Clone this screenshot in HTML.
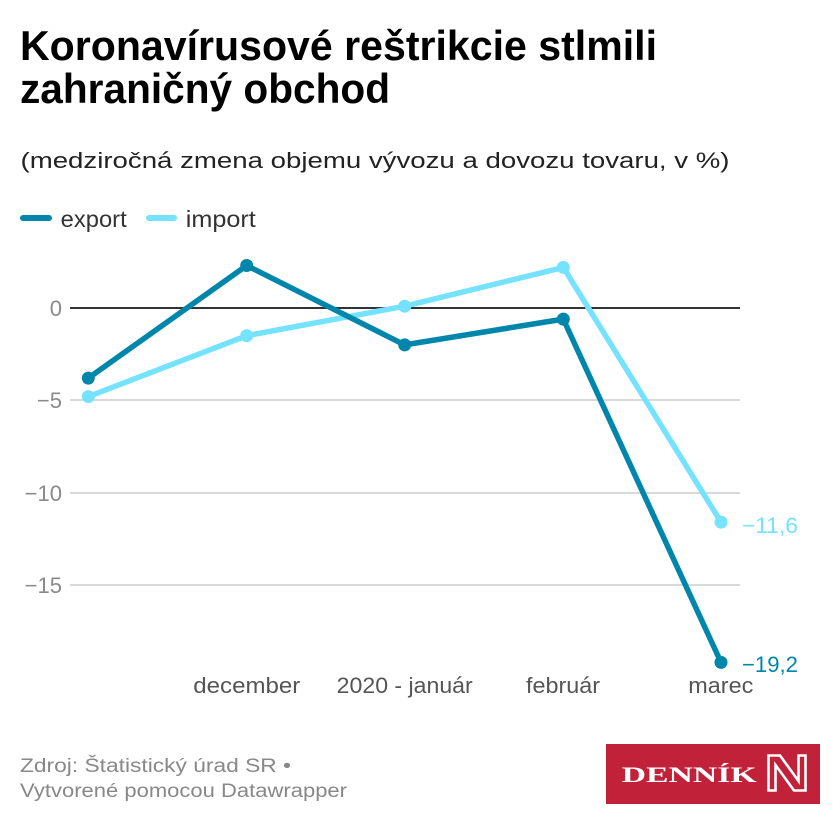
<!DOCTYPE html>
<html>
<head>
<meta charset="utf-8">
<style>
  html, body { margin: 0; padding: 0; background: #ffffff; }
  svg { display: block; }
  text { font-family: "Liberation Sans", "DejaVu Sans", sans-serif; }
</style>
</head>
<body>
<svg width="840" height="840" viewBox="0 0 840 840" xmlns="http://www.w3.org/2000/svg">
  <rect x="0" y="0" width="840" height="840" fill="#ffffff"/>

  <!-- Title -->
  <text x="20" y="60" font-size="42" font-weight="bold" fill="#000" textLength="637" lengthAdjust="spacingAndGlyphs">Koronavírusové reštrikcie stlmili</text>
  <text x="20" y="103" font-size="42" font-weight="bold" fill="#000" textLength="370" lengthAdjust="spacingAndGlyphs">zahraničný obchod</text>

  <!-- Subtitle -->
  <text x="20.5" y="168" font-size="22.5" fill="#222" textLength="709" lengthAdjust="spacingAndGlyphs">(medziročná zmena objemu vývozu a dovozu tovaru, v %)</text>

  <!-- Legend -->
  <line x1="23" y1="218" x2="49" y2="218" stroke="#0086ab" stroke-width="6" stroke-linecap="round"/>
  <text x="60.7" y="227" font-size="23.5" fill="#333" textLength="66" lengthAdjust="spacingAndGlyphs">export</text>
  <line x1="149" y1="218" x2="174" y2="218" stroke="#75e2ff" stroke-width="6" stroke-linecap="round"/>
  <text x="185.8" y="227" font-size="23.5" fill="#333" textLength="70" lengthAdjust="spacingAndGlyphs">import</text>

  <!-- Gridlines -->
  <line x1="70" y1="400" x2="740" y2="400" stroke="#d9d9d9" stroke-width="2"/>
  <line x1="70" y1="493" x2="740" y2="493" stroke="#d9d9d9" stroke-width="2"/>
  <line x1="70" y1="585" x2="740" y2="585" stroke="#d9d9d9" stroke-width="2"/>
  <line x1="70" y1="308" x2="740" y2="308" stroke="#333" stroke-width="2"/>

  <!-- Y labels -->
  <g font-size="22" fill="#8a8a8a" text-anchor="end">
    <text x="62" y="316">0</text>
    <text x="62" y="408">−5</text>
    <text x="62" y="501">−10</text>
    <text x="62" y="593">−15</text>
  </g>

  <!-- X labels -->
  <g font-size="22" fill="#555">
    <text x="193.3" y="693" textLength="107" lengthAdjust="spacingAndGlyphs">december</text>
    <text x="336.7" y="693" textLength="136" lengthAdjust="spacingAndGlyphs">2020 - január</text>
    <text x="526" y="693" textLength="74" lengthAdjust="spacingAndGlyphs">február</text>
    <text x="688.3" y="693" textLength="65" lengthAdjust="spacingAndGlyphs">marec</text>
  </g>

  <!-- Import series -->
  <polyline points="88.3,396.6 246.7,335.7 404.7,306.2 563.3,267.4 721,522.1" fill="none" stroke="#75e2ff" stroke-width="5.5" stroke-linejoin="round" stroke-linecap="round"/>
  <g fill="#75e2ff">
    <circle cx="88.3" cy="396.6" r="6.5"/>
    <circle cx="246.7" cy="335.7" r="6.5"/>
    <circle cx="404.7" cy="306.2" r="6.5"/>
    <circle cx="563.3" cy="267.4" r="6.5"/>
    <circle cx="721" cy="522.1" r="6.5"/>
  </g>

  <!-- Export series -->
  <polyline points="88.3,378.1 246.7,265.5 404.7,344.9 563.3,319.1 721,662.4" fill="none" stroke="#0086ab" stroke-width="5.5" stroke-linejoin="round" stroke-linecap="round"/>
  <g fill="#0086ab">
    <circle cx="88.3" cy="378.1" r="6.5"/>
    <circle cx="246.7" cy="265.5" r="6.5"/>
    <circle cx="404.7" cy="344.9" r="6.5"/>
    <circle cx="563.3" cy="319.1" r="6.5"/>
    <circle cx="721" cy="662.4" r="6.5"/>
  </g>

  <!-- Value labels -->
  <text x="742" y="533" font-size="22" fill="#75e2ff" textLength="56" lengthAdjust="spacingAndGlyphs">−11,6</text>
  <text x="742" y="672" font-size="22" fill="#0086ab" textLength="56" lengthAdjust="spacingAndGlyphs">−19,2</text>

  <!-- Footer -->
  <text x="20" y="772" font-size="19" fill="#888" textLength="271" lengthAdjust="spacingAndGlyphs">Zdroj: Štatistický úrad SR •</text>
  <text x="20" y="797" font-size="19" fill="#888" textLength="327" lengthAdjust="spacingAndGlyphs">Vytvorené pomocou Datawrapper</text>

  <!-- Logo -->
  <rect x="606" y="744" width="214" height="60" fill="#c1223a"/>
  <text x="621.7" y="782" style="font-family: 'Liberation Serif', 'DejaVu Serif', serif; font-weight: bold;" font-size="22" fill="#ffffff" textLength="135" lengthAdjust="spacingAndGlyphs">DENNÍK</text>
  <polygon points="768.5,755.5 780,755.5 798.5,781 798.5,755.5 805.5,755.5 805.5,790.5 794,790.5 775.5,765 775.5,790.5 768.5,790.5" fill="#c1223a" stroke="#ffffff" stroke-width="2.6" stroke-linejoin="miter"/>
</svg>
</body>
</html>
